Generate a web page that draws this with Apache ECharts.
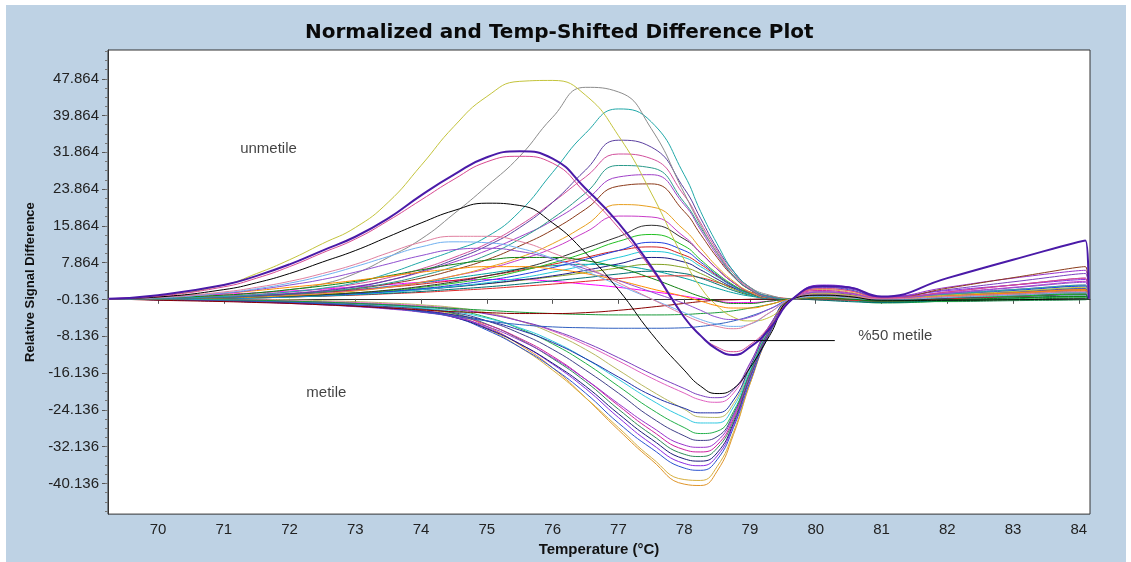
<!DOCTYPE html>
<html><head><meta charset="utf-8">
<script src="https://cdn.jsdelivr.net/npm/echarts@6/dist/echarts.min.js"></script>
<style>html,body{margin:0;padding:0;background:#fff}#c{width:1131px;height:562px}</style>
</head><body><div id="c"></div><script>
// Temperature grid (°C)
const temps = [69.25, 70, 71, 71.5, 72, 72.5, 73, 73.5, 74, 74.5, 75, 75.5, 76, 76.5, 77, 77.5, 78, 78.25, 78.5, 78.75, 79, 79.3, 79.65, 80.1, 80.5, 81, 82, 83, 84.1, 84.15];

// Tick labels
const xTickLabels = [70, 71, 72, 73, 74, 75, 76, 77, 78, 79, 80, 81, 82, 83, 84];
const yTickLabels = [-40.136, -32.136, -24.136, -16.136, -8.136, -0.136, 7.864, 15.864, 23.864, 31.864, 39.864, 47.864];

// Unmethylated (positive peak) curves
const pYellowGreen = [0, 0.6, 3, 5.5, 8.5, 12, 15.5, 21, 29, 37.5, 44, 47.3, 47.5, 44.3, 35.5, 23, 8.5, 2.5, -1.5, -4, -4.8, -4, 0, 1.2, 0.8, 0, 0.8, 1.6, 2.5, 0];
const pGray = [0, 0.2, 0.8, 1.3, 2, 3.2, 5.5, 9, 13, 18.5, 24.5, 31, 39.5, 46, 45, 37, 23, 16, 10, 5.5, 2.5, 0.8, 0, 0.5, 0.3, 0, 0.5, 1, 1.5, 0];
const pTeal = [0, 0.1, 0.5, 0.9, 1.5, 2.3, 3.5, 5.5, 8, 10.5, 13.5, 19, 27.5, 36, 41.3, 38.5, 27, 19, 12, 6, 2.5, 0.5, 0, 0.8, 0.5, 0, 1, 2, 3, 0];
const pSlate = [0, 0.1, 0.4, 0.7, 1.1, 1.7, 2.6, 4, 6, 8.5, 11.5, 15.5, 21, 28, 34.5, 33, 24, 17.5, 11, 6, 2.5, 0.5, 0, 0.6, 0.4, 0, 0.8, 1.5, 2.2, 0];
const pPink = [0, 0.2, 0.6, 1, 1.5, 2.2, 3.2, 4.6, 6.5, 9, 12, 16, 21, 26.5, 31.5, 30.5, 22.5, 16.5, 10.5, 5.5, 2.2, 0.4, 0, 0.5, 0.3, 0, 0.7, 1.3, 2, 0];
const pSea = [0, 0, 0.3, 0.6, 1, 1.5, 2.3, 3.4, 5, 7, 9.5, 13, 17.5, 23, 29, 28.5, 21, 15.5, 10, 5, 2, 0.3, 0, 0.4, 0.2, 0, 0.5, 1, 1.5, 0];
const pViolet = [0, 0.1, 0.5, 0.8, 1.2, 1.8, 2.7, 4, 5.8, 8, 10.5, 13.5, 17, 21.5, 26.5, 27, 20.5, 15, 9.5, 5, 2, 0.3, 0, 0.9, 0.6, 0, 1.5, 3, 4.5, 0];
const pBrown = [0, 0, 0.3, 0.6, 1, 1.5, 2.2, 3.2, 4.5, 6.3, 8.5, 11.5, 15, 19.5, 24.5, 25, 19, 14, 9, 4.8, 2, 0.3, 0, 0.3, 0.2, 0, 2.3, 4.6, 7, 0];
const pOrange = [0, 0, 0.2, 0.4, 0.7, 1.1, 1.7, 2.5, 3.6, 5, 6.8, 9, 12, 16, 20.5, 20, 15, 11, 7, 3.8, 1.5, 0.2, 0, 0.4, 0.2, 0, 0.6, 1.2, 1.8, 0];
const pMagenta = [0, 0.1, 0.3, 0.5, 0.8, 1.2, 1.8, 2.6, 3.6, 5, 6.5, 8.5, 11, 14.5, 18, 17.8, 13.5, 10, 6.5, 3.5, 1.4, 0.2, 0, 0.8, 0.5, 0, 1.3, 2.5, 3.8, 0];
const pDark = [0, 0, 0.2, 0.4, 0.6, 0.9, 1.3, 1.9, 2.7, 3.7, 5, 6.5, 8.5, 11, 13.5, 16, 13, 10, 6.5, 3.5, 1.4, 0.2, 0, 0.3, 0.1, 0, 0.5, 1, 1.5, 0];
const pGreen = [0, 0.1, 0.2, 0.4, 0.6, 0.9, 1.3, 1.8, 2.5, 3.4, 4.5, 6, 7.8, 10, 12.5, 14, 11.5, 8.5, 5.5, 3, 1.2, 0.2, 0, 0.2, 0, -0.3, 0.3, 0.6, 1, 0];
const pBlue = [0, 0, 0.1, 0.3, 0.5, 0.8, 1.1, 1.6, 2.2, 3, 4, 5.2, 6.8, 8.6, 10.5, 12.3, 10.5, 8, 5.2, 2.8, 1.2, 0.2, 0, 0.5, 0.3, 0, 0.9, 1.8, 2.8, 0];
const pRed = [0, 0.2, 0.5, 0.7, 1, 1.4, 1.9, 2.5, 3.2, 4, 5, 6.2, 7.5, 9, 10.5, 11.3, 9.5, 7.5, 5, 2.8, 1.2, 0.2, 0, 0.2, 0.1, -0.2, 0.5, 1.2, 1.9, 0];
const pCyan = [0, -0.1, 0, 0.2, 0.4, 0.7, 1, 1.4, 2, 2.7, 3.5, 4.5, 5.8, 7.3, 9, 10.3, 9, 7, 4.8, 2.6, 1, 0.1, 0, 0.3, 0.1, 0, 0.7, 1.5, 2.2, 0];
const pNavy = [0, 0, 0.2, 0.3, 0.5, 0.8, 1.1, 1.5, 2, 2.6, 3.3, 4.1, 5, 6.2, 7.6, 9, 8, 6.3, 4.3, 2.4, 1, 0.1, 0, 0.2, 0, -0.4, 0.2, 0.6, 1, 0];
const pOlive = [0, 0.2, 0.4, 0.6, 0.8, 1, 1.3, 1.7, 2.2, 2.7, 3.3, 4, 4.8, 5.7, 6.7, 7.5, 6.8, 5.5, 3.8, 2.1, 0.9, 0.1, 0, 0.3, 0.2, 0, 0.4, 0.8, 1.2, 0];
const pDeepTeal = [0, 0, 0.1, 0.2, 0.4, 0.6, 0.9, 1.2, 1.6, 2.1, 2.6, 3.2, 3.9, 4.6, 5.4, 6, 5.5, 4.5, 3.2, 1.8, 0.8, 0.1, 0, -0.3, -0.6, -0.8, -0.3, 0.2, 0.6, 0];

// Early-peaking / heterogeneous curves
const ePurple50 = [0, 0.8, 3, 5, 7.5, 10.5, 13.5, 17.5, 22.5, 27, 30.8, 32.1, 30.5, 24, 16.5, 7, -4, -8, -11, -12.2, -10.5, -6.5, 0, 2.8, 2.5, 0.5, 4.5, 8.5, 12.7, 0];
const ePink50 = [0, 0.6, 2.6, 4.5, 7, 10, 13, 17, 21.5, 26, 29.8, 31, 29.5, 23, 15.5, 6.5, -4, -8, -10.5, -11.5, -10, -6, 0, 2.2, 1.8, 0.2, 1.5, 3, 4.5, 0];
const eBlack = [0, 0.4, 2, 3.5, 5.5, 8, 10.5, 13.5, 16.5, 19.2, 20.8, 20.3, 16.5, 10, 2, -7.5, -15.5, -19, -20.6, -19.5, -15, -8, 0, 0.8, 0.5, -0.3, -0.3, -0.2, 0, 0];
const eSalmon = [0, 0.3, 1.5, 2.5, 3.8, 5.5, 7.5, 10, 12.3, 13.6, 13.6, 12.5, 10, 7, 3.5, 0, -3.5, -5, -6, -6.5, -5.5, -3, 0, 1, 0.6, 0, 0.5, 1, 1.6, 0];
const eSky = [0, 0.2, 1.3, 2.2, 3.4, 5, 7, 9.2, 11.3, 12.4, 12.2, 11, 8.8, 6, 3, 0, -3, -4.5, -5.5, -6, -5.5, -3, 0, 0.5, 0.2, -0.2, 0.3, 0.8, 1.3, 0];
const eLilac = [0, 0.3, 1.2, 2, 3, 4.2, 5.8, 7.6, 9.4, 10.7, 11, 10.3, 8.7, 6.5, 4, 1.5, -1, -2.5, -4, -4.5, -4, -2.2, 0, 1.5, 1.2, 0, 1.2, 2.4, 3.6, 0];
const eForest = [0, 0.2, 0.8, 1.3, 2, 2.8, 3.8, 5, 6.3, 7.5, 8.4, 9, 9, 8.3, 6.8, 4.5, 1.8, 0.5, -0.5, -1, -1, -0.5, 0, 0.3, 0, -0.5, -0.2, 0.2, 0.5, 0];
const eAmber = [0, 0.4, 1.2, 1.8, 2.5, 3.2, 4, 4.9, 5.8, 6.5, 7, 7, 6.5, 5.5, 4, 2.2, 0.5, -0.5, -1.5, -2, -2, -1.2, 0, 0.4, 0.2, 0, 0.6, 1.3, 2, 0];

// Near-baseline curves
const fBlue = [0, -0.1, -0.3, -0.5, -0.7, -1, -1.4, -2, -2.8, -3.8, -4.8, -5.6, -6.1, -6.3, -6.4, -6.4, -6.3, -6, -5.5, -4.8, -3.8, -2.2, 0, 0.5, 0.3, -0.2, 0.3, 0.8, 1.3, 0];
const fGreen = [0, 0, -0.2, -0.3, -0.5, -0.7, -1, -1.3, -1.7, -2.1, -2.5, -2.9, -3.2, -3.4, -3.5, -3.5, -3.4, -3.2, -3, -2.6, -2, -1.2, 0, 0.2, -0.3, -0.9, -0.5, -0.2, 0.2, 0];
const fMagenta = [0, 0.5, 1, 1.3, 1.7, 2.1, 2.6, 3.1, 3.6, 4, 4.2, 4.2, 3.8, 3.2, 2.5, 1.6, 0.6, 0, -0.5, -0.8, -0.8, -0.5, 0, 0.6, 0.4, 0, 0.4, 0.8, 1.2, 0];
const fDarkRed = [0, -0.3, -0.6, -0.8, -1, -1.3, -1.6, -2, -2.4, -2.8, -3, -3.2, -3.2, -3, -2.5, -1.8, -1, -0.6, -0.3, -0.2, -0.1, 0, 0, 0.2, 0, -0.3, 0.3, 1, 1.7, 0];
const fTeal = [0, 0.2, 0.5, 0.7, 1, 1.4, 2, 2.7, 3.5, 4.5, 5.5, 6.5, 7.2, 7.5, 7.2, 6.2, 4.5, 3.4, 2.3, 1.3, 0.6, 0.1, 0, -0.2, -0.4, -0.6, 0, 0.6, 1.2, 0];
const fRed = [0, 0, 0.1, 0.2, 0.4, 0.6, 0.8, 1.1, 1.4, 1.8, 2.2, 2.7, 3.2, 3.8, 4.4, 4.9, 5, 4.6, 3.6, 2.4, 1.5, 0.6, 0, -0.2, -0.3, -0.5, 0, 0.5, 1, 0];

// Methylated (negative trough) curves
const nOrange = [0, -0.1, -0.3, -0.5, -0.7, -1, -1.4, -1.8, -2.2, -3.2, -6, -10, -15, -21.5, -28.5, -35, -40.3, -40.6, -37.5, -29.5, -18.5, -7.5, 0, 2.2, 1.8, 0.3, 0.8, 1.3, 1.8, 0];
const nGold = [0, 0, -0.2, -0.4, -0.6, -0.9, -1.3, -1.7, -2.3, -3.5, -6.5, -10.5, -15.5, -21.5, -28, -34.5, -39.3, -39.5, -36.5, -29, -18.5, -7.5, 0, 2, 1.5, 0.2, 0.6, 1, 1.5, 0];
const nBlue = [0, -0.2, -0.4, -0.6, -0.8, -1.1, -1.5, -2, -2.7, -4, -6.8, -10.5, -15, -20.5, -27, -32.5, -36.8, -37.3, -35, -28, -18, -7.5, 0, 2.5, 2, 0.4, 1.2, 2, 2.8, 0];
const nPurple = [0, -0.1, -0.3, -0.5, -0.7, -1, -1.4, -1.9, -2.6, -3.8, -6.3, -9.8, -14.2, -19.5, -25.8, -31.5, -35.8, -36.3, -34.2, -27.5, -17.5, -7.2, 0, 3, 2.6, 0.5, 1.8, 3, 4.2, 0];
const nNavy = [0, -0.2, -0.5, -0.7, -0.9, -1.2, -1.6, -2.1, -2.8, -4, -6.5, -9.8, -14, -19, -25, -30.5, -34.8, -35.3, -33.5, -27, -17, -7, 0, 1.5, 1, -0.2, 0.2, 0.5, 0.9, 0];
const nSeaGreen = [0, 0, -0.2, -0.3, -0.5, -0.8, -1.1, -1.5, -2.1, -3.2, -5.5, -8.8, -13, -18, -24, -29.5, -33.8, -34.3, -32.5, -26.5, -17, -7, 0, 1, 0.4, -0.6, -0.6, -0.4, -0.2, 0];
const nMagenta = [0, -0.1, -0.4, -0.6, -0.8, -1.1, -1.5, -2, -2.6, -3.6, -5.6, -8.6, -12.5, -17.5, -23.2, -28.6, -32.8, -33.3, -31.8, -26, -16.5, -6.8, 0, 1.8, 1.3, 0.1, 0.8, 1.5, 2.2, 0];
const nOrchid = [0, -0.2, -0.5, -0.7, -1, -1.3, -1.7, -2.2, -2.9, -4, -6, -9, -12.8, -17.5, -22.8, -27.8, -31.8, -32.3, -31, -25.5, -16.5, -6.8, 0, 2.8, 2.4, 0.4, 2.5, 4.5, 6.2, 0];
const nIndigo = [0, -0.1, -0.3, -0.5, -0.7, -1, -1.3, -1.7, -2.2, -3, -4.8, -7.5, -11, -15.5, -20.5, -25.8, -29.8, -30.8, -30, -25, -16, -6.5, 0, 1.2, 0.8, -0.2, 0.4, 1, 1.6, 0];
const nGreen = [0, 0, -0.2, -0.3, -0.5, -0.7, -1, -1.3, -1.8, -2.5, -4, -6.5, -9.8, -14, -19, -24, -28, -29.3, -28.8, -24.5, -16, -6.5, 0, 0.6, 0, -0.8, -0.5, 0, 0.4, 0];
const nCyan = [0, -0.1, -0.2, -0.4, -0.6, -0.8, -1.1, -1.5, -2, -2.8, -4.2, -6.3, -9.2, -13, -17.5, -22, -25.8, -27, -27, -23.5, -15.5, -6.3, 0, 1, 0.6, 0, 0.8, 1.6, 2.4, 0];
const nKhaki = [0, 0.1, 0, -0.1, -0.2, -0.4, -0.6, -0.9, -1.3, -1.9, -3, -4.8, -7.5, -11, -15.5, -20, -24, -25.7, -25.8, -22.8, -15, -6.2, 0, 0.8, 0.4, 0, 0.6, 1.2, 1.8, 0];
const nRoyal = [0, -0.2, -0.4, -0.6, -0.8, -1.1, -1.5, -2, -2.6, -3.5, -4.8, -6.8, -9.5, -13, -17, -21, -23.8, -24.8, -24.8, -22, -14.8, -6, 0, 0.5, 0, -0.5, 0, 0.5, 1, 0];
const nRose = [0, 0, -0.1, -0.2, -0.4, -0.6, -0.8, -1.1, -1.5, -2.1, -3.2, -4.8, -7, -10, -13.5, -17.2, -20.5, -22, -22.5, -20.5, -14.2, -5.8, 0, 1.5, 1.1, 0, 1, 2, 3, 0];
const nAmethyst = [0, -0.1, -0.3, -0.4, -0.6, -0.8, -1, -1.3, -1.7, -2.3, -3.3, -4.8, -6.8, -9.5, -12.8, -16.3, -19.5, -21, -21.5, -19.8, -14, -5.7, 0, 2.5, 2.2, 0.3, 2, 3.7, 5.5, 0];

// Annotations (data coordinates)
const annotationLabels = [['unmetile', 71.68, 32.55], ['metile', 72.56, -20.5], ['%50 metile', 81.21, -8.0]];
const annotationLine = [[78.39, -9.08], [80.29, -9.08]];

const curves = [
  [nOrange, '#e0952a'], [nGold, '#d8b040'], [nBlue, '#2a52d0'], [nPurple, '#8a2be2'],
  [nNavy, '#1c1c78'], [nSeaGreen, '#2e8b57'], [nMagenta, '#d020a0'], [nOrchid, '#9932cc'],
  [nIndigo, '#404088'], [nGreen, '#22b04a'], [nCyan, '#30c8e0'], [nKhaki, '#b8b860'],
  [nRoyal, '#2030a8'], [nRose, '#e060c0'], [nAmethyst, '#7b3fbf'],
  [fBlue, '#3060c0'], [fGreen, '#1a9a3a'], [fMagenta, '#ff00ff'], [fDarkRed, '#8b0000'],
  [fTeal, '#00a0a0'], [fRed, '#e02828'],
  [pDeepTeal, '#007070'], [pOlive, '#80a020'], [pNavy, '#1a1a80'], [pCyan, '#20c8d8'],
  [pRed, '#d02020'], [pBlue, '#2040e0'], [pGreen, '#22c022'], [pDark, '#303030'],
  [pMagenta, '#c83cc8'], [pOrange, '#e8a020'], [pBrown, '#8b3a1a'], [pViolet, '#a040c8'],
  [pSea, '#2a9a8a'], [pPink, '#d2509c'], [pSlate, '#5b3fa0'], [pTeal, '#20a8a8'],
  [pGray, '#8c8c8c'], [pYellowGreen, '#c4c43c'],
  [eForest, '#108010'], [eAmber, '#ff8c00'], [eLilac, '#9050d0'], [eSky, '#70b0f0'],
  [eSalmon, '#e080a0'], [eBlack, '#000000'], [ePink50, '#d84890'], [ePurple50, '#4a1aa8', 2]
];

const yMinorTicks = [];
for (let v = yTickLabels[0] - 6; v <= yTickLabels[yTickLabels.length - 1] + 6.01; v += 2) yMinorTicks.push(+v.toFixed(3));

const series = curves.map(([vals, color, w]) => ({
  type: 'line', yAxisIndex: 0, xAxisIndex: 0,
  data: temps.map((t, i) => [t, vals[i]]),
  smooth: 0.5, showSymbol: false, symbol: 'none',
  lineStyle: { color: color, width: w || 1 }, silent: true, z: 3
}));

series.push({
  type: 'line', data: annotationLine, symbol: 'none', lineStyle: { color: '#000', width: 1 }, z: 5, silent: true
});
series.push({
  type: 'scatter', symbolSize: 0, z: 6, silent: true,
  data: annotationLabels.map(a => ({ value: [a[1], a[2]], name: a[0] })),
  label: { show: true, position: 'inside', formatter: p => p.name, color: '#111',
           fontFamily: 'Liberation Sans', fontSize: 15 }
});

const chart = echarts.init(document.getElementById('c'), null, { renderer: 'canvas' });
chart.setOption({
  animation: false,
  backgroundColor: '#ffffff',
  graphic: [{ type: 'rect', shape: { x: 6, y: 5, width: 1120, height: 557 }, style: { fill: '#bed2e4' }, z: -10 }],
  title: {
    text: 'Normalized and Temp-Shifted Difference Plot',
    left: 300, top: 18,
    textStyle: { fontFamily: 'DejaVu Sans', fontWeight: 'bold', fontSize: 20, color: '#0a0a0a' }
  },
  grid: { left: 108, top: 50, right: 41, bottom: 44, show: true, backgroundColor: '#ffffff', borderColor: '#333', borderWidth: 1 },
  xAxis: {
    type: 'value', min: 69.24, max: 84.17,
    name: 'Temperature (°C)', nameLocation: 'middle', nameGap: 25,
    nameTextStyle: { fontFamily: 'Liberation Sans', fontWeight: 'bold', fontSize: 15, color: '#111' },
    axisLine: { lineStyle: { color: '#333' } },
    axisTick: { show: true, length: 5, customValues: xTickLabels, lineStyle: { color: '#555' } },
    axisLabel: { customValues: xTickLabels, fontFamily: 'Liberation Sans', fontSize: 15, color: '#222', margin: 8 },
    splitLine: { show: false }
  },
  yAxis: [{
    type: 'value', min: -46.82, max: 54.12,
    name: 'Relative Signal Difference', nameLocation: 'middle', nameGap: 68, nameRotate: 90,
    nameTextStyle: { fontFamily: 'Liberation Sans', fontWeight: 'bold', fontSize: 13, color: '#111' },
    axisLine: { show: true, lineStyle: { color: '#333' } },
    axisTick: { show: true, length: 6, customValues: yTickLabels, lineStyle: { color: '#555' } },
    axisLabel: { customValues: yTickLabels, formatter: v => v.toFixed(3), fontFamily: 'Liberation Sans', fontSize: 15, color: '#222', margin: 9 },
    splitLine: { show: false }
  }, {
    type: 'value', min: -46.82, max: 54.12, position: 'left',
    axisLine: { show: false },
    axisTick: { show: true, length: 3, customValues: yMinorTicks, lineStyle: { color: '#777' } },
    axisLabel: { show: false },
    splitLine: { show: false }
  }],
  series: series
});
</script></body></html>
